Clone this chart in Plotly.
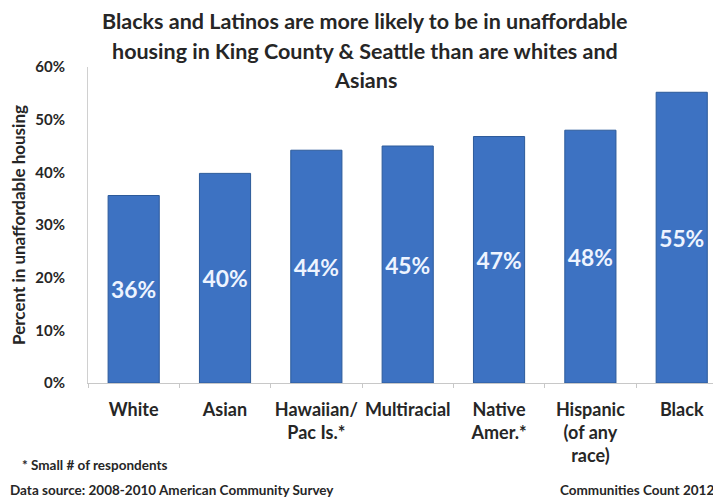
import plotly.graph_objects as go

categories = ["White", "Asian", "Hawaiian/<br>Pac Is.*", "Multiracial",
              "Native<br>Amer.*", "Hispanic<br>(of any<br>race)", "Black"]
values = [0.356, 0.398, 0.442, 0.450, 0.468, 0.480, 0.552]
y_ticks = [0, 0.1, 0.2, 0.3, 0.4, 0.5, 0.6]
title_lines = ["Blacks and Latinos are more likely to be in unaffordable",
               "housing in King County & Seattle than are whites and",
               "Asians"]
footnote = "* Small # of respondents"
source = "Data source: 2008-2010 American Community Survey"
credit = "Communities Count 2012"

FONT = "Lato"
TXT = "#262626"
OFF = 8                      # page body margin
W, H = 721 - OFF, 501 - OFF
L, T, B = 88 - OFF, 67 - OFF, 501 - 383
PW, PH = W - L, H - T - B


def px_x(xr):
    return (xr - OFF - L) / PW


def px_y(yr):
    return 1 - (yr - OFF - T) / PH


fig = go.Figure()
fig.add_trace(go.Bar(
    x=categories, y=values,
    marker=dict(color="#3d72c2", line=dict(color="#2c5a9a", width=1)),
    width=0.56,
    texttemplate="%{y:.0%}",
    textposition="inside",
    insidetextanchor="middle",
    textangle=0,
    textfont=dict(family=FONT, size=24, color="#eef4ff", weight="bold"),
    hoverinfo="skip",
))

fig.update_layout(
    width=W, height=H,
    margin=dict(l=L, r=0, t=T, b=B),
    paper_bgcolor="white", plot_bgcolor="white",
    showlegend=False,
    font=dict(family=FONT, color=TXT),
)
fig.update_xaxes(
    range=[-0.5, 6.43],
    showline=True, linecolor="#c8c8c8", linewidth=1,
    ticks="outside", tickson="boundaries", ticklen=4, tickcolor="#c8c8c8",
    tickangle=0,
    ticklabelstandoff=10,
    tickfont=dict(family=FONT, size=18, color=TXT, weight="bold"),
    showgrid=False,
)
fig.update_yaxes(
    range=[0, 0.6],
    tickvals=y_ticks, tickformat=".0%",
    showline=True, linecolor="#d0d0d0", linewidth=1,
    showgrid=False, zeroline=False,
    ticklabelstandoff=19,
    tickfont=dict(family=FONT, size=15, color=TXT, weight="bold"),
    title=dict(text="Percent in unaffordable housing", standoff=12,
               font=dict(family=FONT, size=17, color=TXT, weight="bold")),
)

title_y = [21, 51, 80]
for line, yy in zip(title_lines, title_y):
    fig.add_annotation(text=line, xref="paper", yref="paper",
                       x=px_x(365), y=px_y(yy),
                       showarrow=False, xanchor="center", yanchor="middle",
                       font=dict(family=FONT, size=21.5, color=TXT, weight="bold"))

fig.add_annotation(text=footnote, xref="paper", yref="paper",
                   x=px_x(20), y=px_y(465),
                   showarrow=False, xanchor="left", yanchor="middle",
                   font=dict(family=FONT, size=13.5, color=TXT, weight="bold"))
fig.add_annotation(text=source, xref="paper", yref="paper",
                   x=px_x(8), y=px_y(490),
                   showarrow=False, xanchor="left", yanchor="middle",
                   font=dict(family=FONT, size=13.5, color=TXT, weight="bold"))
fig.add_annotation(text=credit, xref="paper", yref="paper",
                   x=px_x(716), y=px_y(490),
                   showarrow=False, xanchor="right", yanchor="middle",
                   font=dict(family=FONT, size=13.5, color=TXT, weight="bold"))

fig.write_html("out.html")
